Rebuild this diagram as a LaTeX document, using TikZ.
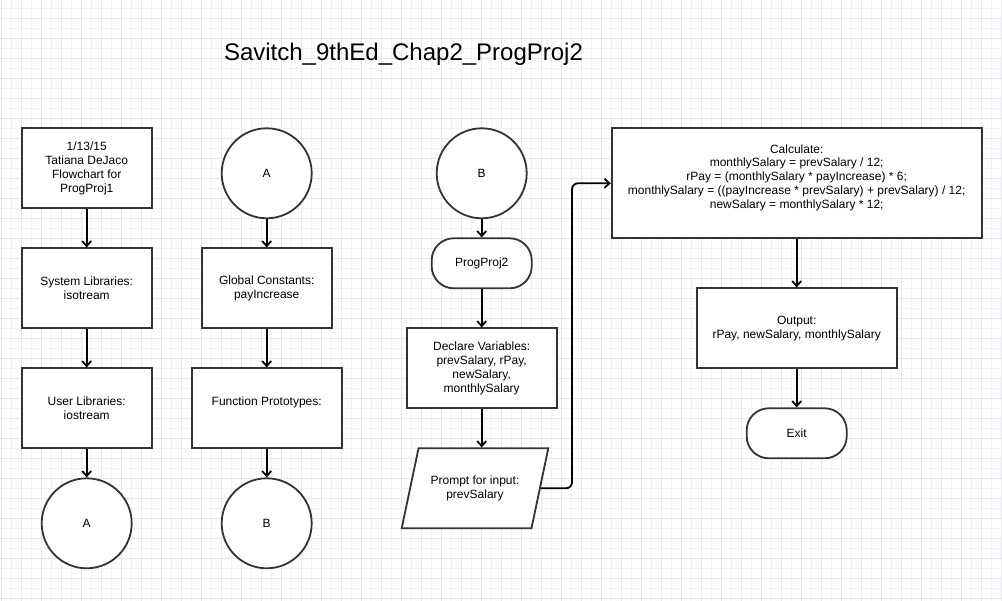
\documentclass[tikz,border=0pt]{standalone}
\usepackage{fontspec}
\setmainfont{Liberation Sans}
\usetikzlibrary{arrows.meta,shapes.geometric}
\definecolor{gridminor}{RGB}{241,241,250}
\definecolor{gridmajor}{RGB}{230,230,247}
\definecolor{shapeline}{RGB}{51,51,51}
\begin{document}
\begin{tikzpicture}
[x=1pt,y=-1pt,
every node/.style={font=\fontsize{12}{13.8}\selectfont,align=center,text=black},
process/.style={draw=shapeline,line width=1.8pt,fill=white,minimum width=130pt,minimum height=80pt,inner sep=2pt},
connector/.style={circle,draw=shapeline,line width=1.8pt,fill=white,minimum size=90pt},
terminal/.style={draw=shapeline,line width=1.8pt,fill=white,rounded corners=22pt,minimum width=100pt,minimum height=50pt},
inout/.style={trapezium,trapezium left angle=65.8,trapezium right angle=114.2,trapezium stretches=true,draw=shapeline,line width=1.8pt,fill=white,minimum width=146.7pt,minimum height=80pt},
flow/.style={-{Straight Barb[length=5pt,width=9pt]},line width=1.8pt,black}]
\useasboundingbox (0,0) rectangle (1002,601);
\fill[white] (0,0) rectangle (1002,601);
\foreach \k in {0,...,100} \draw[gridminor,line width=1pt] ({1.7+10*\k},0) -- ++(0,601);
\foreach \k in {0,...,50} \draw[gridmajor,line width=1pt] ({1.7+20*\k},0) -- ++(0,601);
\foreach \k in {0,...,59} \draw[gridminor,line width=1pt] (0,{8.3+10*\k}) -- ++(1002,0);
\foreach \k in {0,...,29} \draw[gridmajor,line width=1pt] (0,{18.3+20*\k}) -- ++(1002,0);
\node[font=\fontsize{24}{28}\selectfont,anchor=base] (title) at (403.5,60.5) {Savitch\_9thEd\_Chap2\_ProgProj2};
\node[process] (head) at (86.7,168.3) {1/13/15\\Tatiana DeJaco\\Flowchart for\\ProgProj1};
\node[process] (syslib) at (86.7,288.3) {System Libraries:\\isotream};
\node[process] (userlib) at (86.7,408.3) {User Libraries:\\iostream};
\node[connector] (offA) at (86.7,523.3) {A};
\node[connector] (onA) at (266.7,173.3) {A};
\node[process] (consts) at (266.7,288.3) {Global Constants:\\payIncrease};
\node[process,minimum width=150pt] (protos) at (266.7,408.3) {Function Prototypes:\\~};
\node[connector] (offB) at (266.7,523.3) {B};
\node[connector] (onB) at (481.7,173.3) {B};
\node[terminal] (main) at (481.7,263.3) {ProgProj2};
\node[process,minimum width=150pt] (vars) at (481.7,368.3) {Declare Variables:\\ prevSalary, rPay,\\newSalary,\\monthlySalary};
\node[inout] (prompt) at (475,488.3) {Prompt for input:\\prevSalary};
\node[process,minimum width=370pt,minimum height=110pt] (calc) at (796.7,183.3) {Calculate:\\monthlySalary = prevSalary / 12;\\rPay = (monthlySalary * payIncrease) * 6;\\monthlySalary = ((payIncrease * prevSalary) + prevSalary) / 12;\\newSalary = monthlySalary * 12;\\~};
\node[process,minimum width=200pt] (output) at (796.7,328.3) {Output:\\rPay, newSalary, monthlySalary};
\node[terminal] (exit) at (796.7,433.3) {Exit};
\coordinate (bend) at (572,0);
\draw[flow] (head) -- (syslib);
\draw[flow] (syslib) -- (userlib);
\draw[flow] (userlib) -- (offA);
\draw[flow] (onA) -- (consts);
\draw[flow] (consts) -- (protos);
\draw[flow] (protos) -- (offB);
\draw[flow] (onB) -- (main);
\draw[flow] (main) -- (vars);
\draw[flow] (vars) -- (vars |- prompt.north);
\draw[flow,rounded corners=6pt] (prompt.east) -- (prompt.east -| bend) |- (calc.west);
\draw[flow] (calc) -- (output);
\draw[flow] (output) -- (exit);
\end{tikzpicture}
\end{document}
